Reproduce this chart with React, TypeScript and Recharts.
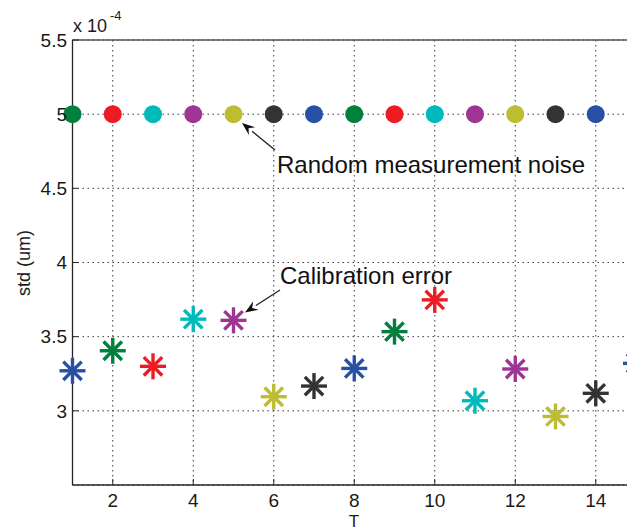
import { CartesianGrid, Cell, Scatter, ScatterChart, XAxis, YAxis } from "recharts";

// T values and the two std series (in units of 1e-4 um)
const T = [1, 2, 3, 4, 5, 6, 7, 8, 9, 10, 11, 12, 13, 14, 15];
const noiseStd = [5, 5, 5, 5, 5, 5, 5, 5, 5, 5, 5, 5, 5, 5, 5];
const calibStd = [3.27, 3.405, 3.3, 3.618, 3.61, 3.095, 3.167, 3.286, 3.534, 3.748, 3.068, 3.282, 2.962, 3.118, 3.32];

const xTicks = [2, 4, 6, 8, 10, 12, 14];
const yTicks = [3, 3.5, 4, 4.5, 5, 5.5];

const noiseColors = ["#00803c", "#ed1c24", "#00b9bb", "#9e3493", "#bdbd32", "#333333", "#2850a4"];
const calibColors = ["#2850a4", "#00803c", "#ed1c24", "#00b9bb", "#9e3493", "#bdbd32", "#333333"];

const noiseData = T.map((t, i) => ({ t, std: noiseStd[i] }));
const calibData = T.map((t, i) => ({ t, std: calibStd[i] }));

const font = "'Liberation Sans', Arial, sans-serif";
const axisColor = "#262626";

function Dot(props: any) {
  return <circle cx={props.cx} cy={props.cy} r={9} fill={props.fill} />;
}

function Star(props: any) {
  const { cx, cy, fill } = props;
  const a = 13;
  const d = 9.2;
  return (
    <g stroke={fill} strokeWidth={3.4}>
      <line x1={cx - a} y1={cy} x2={cx + a} y2={cy} />
      <line x1={cx} y1={cy - a} x2={cx} y2={cy + a} />
      <line x1={cx - d} y1={cy - d} x2={cx + d} y2={cy + d} />
      <line x1={cx - d} y1={cy + d} x2={cx + d} y2={cy - d} />
    </g>
  );
}

function Arrow({ x1, y1, x2, y2 }: { x1: number; y1: number; x2: number; y2: number }) {
  const ang = Math.atan2(y2 - y1, x2 - x1);
  const len = 13;
  const w = 5;
  const bx = x2 - len * Math.cos(ang);
  const by = y2 - len * Math.sin(ang);
  const px = -Math.sin(ang) * w;
  const py = Math.cos(ang) * w;
  return (
    <g>
      <line x1={x1} y1={y1} x2={bx} y2={by} stroke="#222" strokeWidth={1.3} />
      <polygon points={`${x2},${y2} ${bx + px},${by + py} ${bx + 0.35 * (x2 - bx)},${by + 0.35 * (y2 - by)} ${bx - px},${by - py}`} fill="#111" />
    </g>
  );
}

export default function App() {
  const tickStyle = { fontSize: 19, fill: "#1a1a1a", fontFamily: font };
  return (
    <div style={{ position: "absolute", left: 0, top: 0, width: 627, height: 529, overflow: "hidden", background: "#fff" }}>
      <ScatterChart width={700} height={529} margin={{ top: 20, right: 64, bottom: 0, left: 12.5 }}>
        <CartesianGrid stroke="#3a3a3a" strokeDasharray="1.5 3.5" />
        <XAxis
          type="number"
          dataKey="t"
          domain={[1, 15]}
          ticks={xTicks}
          height={44}
          tickSize={-6}
          tickMargin={14.5}
          tick={tickStyle}
          axisLine={{ stroke: axisColor, strokeWidth: 1.3 }}
          tickLine={{ stroke: axisColor }}
        />
        <XAxis
          xAxisId="top"
          orientation="top"
          type="number"
          dataKey="t"
          domain={[1, 15]}
          ticks={xTicks}
          height={20}
          tickSize={-6}
          tick={false}
          axisLine={{ stroke: "#555", strokeWidth: 1.3 }}
          tickLine={{ stroke: axisColor }}
        />
        <YAxis
          type="number"
          dataKey="std"
          domain={[2.5, 5.5]}
          ticks={yTicks}
          width={60}
          tickSize={-6}
          tickMargin={11.5}
          tick={tickStyle}
          tickFormatter={(v: number) => String(v)}
          axisLine={{ stroke: axisColor, strokeWidth: 1.3 }}
          tickLine={{ stroke: axisColor }}
        />
        <Scatter data={noiseData} shape={<Dot />} isAnimationActive={false}>
          {noiseData.map((p, i) => (
            <Cell key={`n-${p.t}`} fill={noiseColors[i % noiseColors.length]} />
          ))}
        </Scatter>
        <Scatter data={calibData} shape={<Star />} isAnimationActive={false}>
          {calibData.map((p, i) => (
            <Cell key={`c-${p.t}`} fill={calibColors[i % calibColors.length]} />
          ))}
        </Scatter>
        <text x={73} y={32} fontSize={18} fontFamily={font} fill="#1a1a1a">
          x 10
          <tspan x={110} y={20} fontSize={13}>-4</tspan>
        </text>
        <text
          x={30}
          y={263}
          transform="rotate(-90 30 263)"
          textAnchor="middle"
          fontSize={18}
          fontFamily={font}
          fill="#1a1a1a"
        >
          std (um)
        </text>
        <text x={354} y={526.5} textAnchor="middle" fontSize={17} fontFamily={font} fill="#1a1a1a">
          T
        </text>
        <Arrow x1={275} y1={150} x2={242} y2={123} />
        <text x={277} y={172.5} fontSize={24} fontFamily={font} fill="#111">
          Random measurement noise
        </text>
        <Arrow x1={280} y1={290} x2={245} y2={312.5} />
        <text x={280} y={284} fontSize={24} fontFamily={font} fill="#111">
          Calibration error
        </text>
      </ScatterChart>
    </div>
  );
}
